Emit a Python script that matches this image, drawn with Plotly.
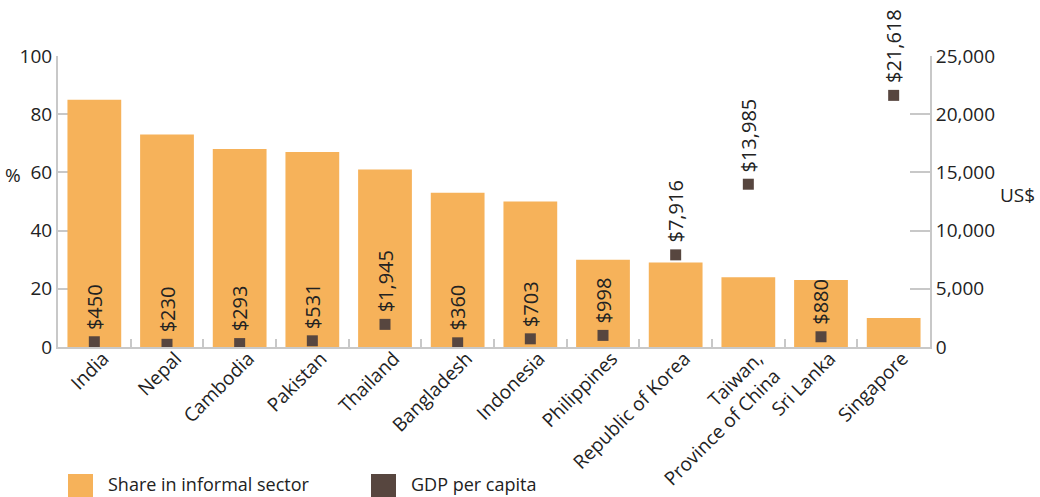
import plotly.graph_objects as go

# Data
countries = ["India", "Nepal", "Cambodia", "Pakistan", "Thailand", "Bangladesh",
             "Indonesia", "Philippines", "Republic of Korea",
             "Taiwan,<br>Province of China", "Sri Lanka", "Singapore"]
informal_share = [85, 73, 68, 67, 61, 53, 50, 30, 29, 24, 23, 10]
gdp_per_capita = [450, 230, 293, 531, 1945, 360, 703, 998, 7916, 13985, 880, 21618]

share_ticks = [0, 20, 40, 60, 80, 100]
gdp_ticks = [0, 5000, 10000, 15000, 20000, 25000]

BAR_COLOR = "#F6B25A"
DOT_COLOR = "#57463F"
AXIS_COLOR = "#C8C8C8"
TEXT_COLOR = "#222222"
FONT = "Open Sans"
FS_TICK = 19
FS_VALUE = 20
FS_LEGEND = 18

W, H = 1040, 497
M_L, M_R, M_T, M_B = 58, 110, 56, 150
PW, PH = W - M_L - M_R, H - M_T - M_B


def px_x(px):
    return (px - M_L) / PW


def px_y(py):
    return (H - M_B - py) / PH


fig = go.Figure()
fig.add_trace(go.Bar(
    x=countries, y=informal_share, name="Share in informal sector",
    marker=dict(color=BAR_COLOR, line=dict(width=0)), width=0.74,
))
fig.add_trace(go.Scatter(
    x=countries, y=gdp_per_capita, yaxis="y2", mode="markers",
    name="GDP per capita",
    marker=dict(symbol="square", size=11, color=DOT_COLOR, line=dict(width=0)),
))

# Value labels above each GDP marker
for c, v in zip(countries, gdp_per_capita):
    fig.add_annotation(
        x=c, y=v, yref="y2", text=f"${v:,}", textangle=-90, showarrow=False,
        xanchor="center", yanchor="bottom", yshift=10,
        font=dict(family=FONT, size=FS_VALUE, color=TEXT_COLOR),
    )

# Axis titles
fig.add_annotation(x=px_x(13), y=px_y(175), xref="paper", yref="paper", text="%",
                   showarrow=False, xanchor="center", yanchor="middle",
                   font=dict(family=FONT, size=FS_TICK, color=TEXT_COLOR))
fig.add_annotation(x=px_x(1017), y=px_y(195), xref="paper", yref="paper", text="US$",
                   showarrow=False, xanchor="center", yanchor="middle",
                   font=dict(family=FONT, size=FS_TICK, color=TEXT_COLOR))

# Legend
legend_items = [("Share in informal sector", BAR_COLOR, 68),
                ("GDP per capita", DOT_COLOR, 371)]
for label, color, left in legend_items:
    fig.add_shape(type="rect", xref="paper", yref="paper",
                  x0=px_x(left), x1=px_x(left + 25), y0=px_y(498), y1=px_y(474),
                  fillcolor=color, line=dict(width=0))
    fig.add_annotation(x=px_x(left + 38), y=px_y(484), xref="paper", yref="paper",
                       text=label, showarrow=False, xanchor="left", yanchor="middle",
                       font=dict(family=FONT, size=FS_LEGEND, color=TEXT_COLOR))

fig.update_layout(
    width=W, height=H,
    margin=dict(l=M_L, r=M_R, t=M_T, b=M_B, autoexpand=False),
    plot_bgcolor="white", paper_bgcolor="white",
    showlegend=False,
    font=dict(family=FONT, size=FS_TICK, color=TEXT_COLOR),
    xaxis=dict(
        type="category", range=[-0.5, len(countries) - 0.5],
        tickangle=-45, showgrid=False, automargin=False,
        ticklabelshift=9, ticklabelstandoff=-9,
        showline=True, linecolor=AXIS_COLOR, linewidth=2,
        ticks="inside", ticklen=8, tickcolor=AXIS_COLOR, tickwidth=2,
        tickson="boundaries",
    ),
    yaxis=dict(
        range=[0, 100], tickvals=share_ticks, showgrid=False, zeroline=False,
        automargin=False, layer="below traces",
        showline=True, linecolor=AXIS_COLOR, linewidth=2,
        ticks="inside", ticklen=20, tickcolor=AXIS_COLOR, tickwidth=2,
    ),
    yaxis2=dict(
        range=[0, 25000], tickvals=gdp_ticks, tickformat=",", overlaying="y",
        side="right", showgrid=False, zeroline=False, automargin=False,
        layer="below traces",
        showline=True, linecolor=AXIS_COLOR, linewidth=2,
        ticks="inside", ticklen=20, tickcolor=AXIS_COLOR, tickwidth=2,
    ),
)

fig.write_html("out.html")
